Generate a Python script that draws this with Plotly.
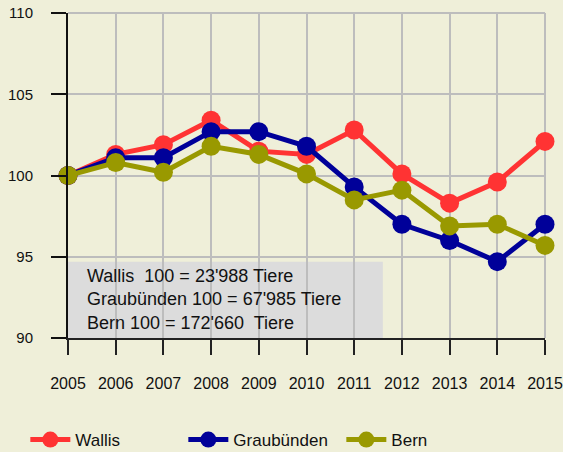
import plotly.graph_objects as go

years = list(range(2005, 2016))
wallis = [100, 101.3, 101.9, 103.4, 101.5, 101.3, 102.8, 100.1, 98.3, 99.6, 102.1]
graubuenden = [100, 101.1, 101.1, 102.7, 102.7, 101.8, 99.3, 97.0, 96.0, 94.7, 97.0]
bern = [100, 100.8, 100.2, 101.8, 101.3, 100.1, 98.5, 99.1, 96.9, 97.0, 95.7]

names = ["Wallis", "Graubünden", "Bern"]
colors = ["#ff3333", "#000099", "#999900"]
note_lines = ["Wallis  100 = 23'988 Tiere",
              "Graubünden 100 = 67'985 Tiere",
              "Bern 100 = 172'660  Tiere"]

bg = "#efefd9"
fig = go.Figure()

# grey note box sits under the lines
fig.add_shape(type="rect", xref="x", yref="y", x0=2005, x1=2011.6, y0=90, y1=94.7,
              fillcolor="#dcdcdc", line_width=0, layer="below")

for name, vals, col in zip(names, [wallis, graubuenden, bern], colors):
    fig.add_trace(go.Scatter(
        x=years, y=vals, name=name, mode="lines+markers",
        line=dict(color=col, width=5),
        marker=dict(color=col, size=19),
        cliponaxis=False,
    ))

fig.add_annotation(xref="paper", yref="y", x=0.036, y=92.37, xanchor="left", yanchor="middle",
                   text="<br>".join(note_lines), showarrow=False, align="left",
                   font=dict(size=18, color="#111111"))

fig.update_xaxes(range=[2005, 2015], tickvals=years, showgrid=True, gridcolor="#bdbdbd", gridwidth=2,
                 showline=True, linecolor="#222222", linewidth=2, ticks="outside", ticklen=15,
                 tickcolor="#222222", tickwidth=2, ticklabelstandoff=15, zeroline=False,
                 automargin=False, tickfont=dict(size=16))
fig.update_yaxes(range=[90, 110], tickvals=[90, 95, 100, 105, 110], showgrid=True, gridcolor="#bdbdbd",
                 gridwidth=2, showline=True, linecolor="#111111", linewidth=2, ticks="outside",
                 ticklen=15, tickcolor="#111111", tickwidth=2, ticklabelstandoff=15, zeroline=False,
                 automargin=False, tickfont=dict(size=15))

# top and right frame as grey lines
fig.add_shape(type="line", xref="paper", yref="paper", x0=0, x1=1, y0=1, y1=1,
              line=dict(color="#bdbdbd", width=2), layer="below")
fig.add_shape(type="line", xref="paper", yref="paper", x0=1, x1=1, y0=0, y1=1,
              line=dict(color="#bdbdbd", width=2), layer="below")

fig.update_layout(
    width=563, height=452,
    margin=dict(l=68, r=18, t=13, b=114),
    paper_bgcolor=bg, plot_bgcolor=bg,
    font=dict(family="Liberation Sans, Arial", size=15, color="#111111"),
    showlegend=True,
    legend=dict(orientation="h", xref="container", yref="container",
                x=0.045, xanchor="left", y=0.0265, yanchor="middle",
                bgcolor="rgba(0,0,0,0)", font=dict(size=17, color="#111111"),
                entrywidth=103, itemwidth=40),
)

fig.write_html("out.html", config={"displayModeBar": False},
               post_script="document.body.style.margin='0';document.body.style.background='" + bg + "';")
